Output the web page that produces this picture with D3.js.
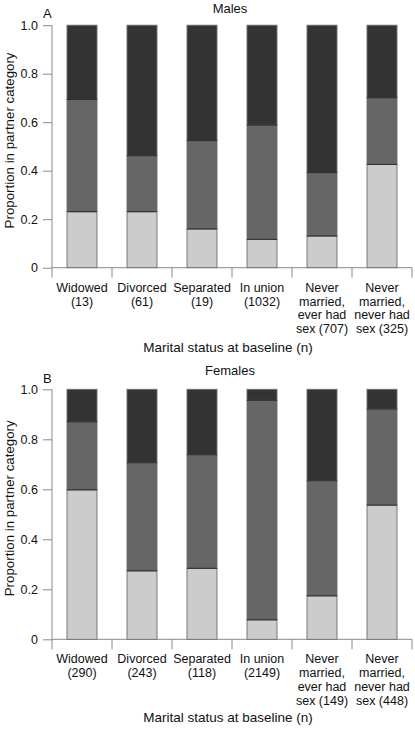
<!DOCTYPE html>
<html>
<head>
<meta charset="utf-8">
<script src="https://cdn.jsdelivr.net/npm/d3@7"></script>
<style>
  html, body { margin: 0; padding: 0; background: #fff; }
  svg { display: block; }
  text { font-family: "Liberation Sans", Arial, Helvetica, sans-serif; fill: #111; }
</style>
</head>
<body>
<svg id="chart" width="415" height="729"></svg>
<script>
// ---- data ----
const categories = ["Widowed", "Divorced", "Separated", "In union", "Never married, ever had sex", "Never married, never had sex"];
const categoryLines = [["Widowed"], ["Divorced"], ["Separated"], ["In union"], ["Never", "married,", "ever had"], ["Never", "married,", "never had"]];
const maleN = ["(13)", "(61)", "(19)", "(1032)", "sex (707)", "sex (325)"];
const femaleN = ["(290)", "(243)", "(118)", "(2149)", "sex (149)", "sex (448)"];

const maleLow  = [0.231, 0.231, 0.160, 0.117, 0.131, 0.426];
const maleMid  = [0.463, 0.231, 0.364, 0.471, 0.261, 0.275];
const maleHigh = [0.306, 0.538, 0.476, 0.412, 0.608, 0.299];

const femaleLow  = [0.598, 0.274, 0.284, 0.078, 0.174, 0.537];
const femaleMid  = [0.272, 0.432, 0.454, 0.878, 0.460, 0.384];
const femaleHigh = [0.130, 0.294, 0.262, 0.044, 0.366, 0.079];

const yTicks = [0, 0.2, 0.4, 0.6, 0.8, 1.0];
const yTickLabels = ["0", "0.2", "0.4", "0.6", "0.8", "1.0"];
const segmentKeys = ["low", "mid", "high"];
const segmentColors = ["#cccccc", "#666666", "#333333"];

// ---- drawing ----
const svg = d3.select("#chart");
const axisColor = "#8a8a8a";
const left = 52, right = 412;

function drawPanel(cfg) {
  const g = svg.append("g");
  const x = d3.scaleBand().domain(categories).range([left, right]).paddingInner(0.5).paddingOuter(0.25);
  const y = d3.scaleLinear().domain([0, 1]).range([cfg.bottom, cfg.top]);

  const rows = categories.map((c, i) => ({ cat: c, low: cfg.low[i], mid: cfg.mid[i], high: cfg.high[i] }));
  const series = d3.stack().keys(segmentKeys)(rows);

  // y axis
  const yAxis = d3.axisLeft(y).tickValues(yTicks).tickFormat((d, i) => yTickLabels[i]).tickSize(9).tickPadding(5);
  const ya = g.append("g").attr("transform", `translate(${left},0)`).call(yAxis);
  ya.select(".domain").attr("stroke", axisColor).attr("d", `M0,${cfg.top}V${cfg.bottom}`);
  ya.selectAll(".tick line").attr("stroke", axisColor);
  ya.selectAll(".tick text").style("font-size", "12.5px").attr("fill", "#111")
    .style("font-family", '"Liberation Sans", Arial, sans-serif');

  // x axis (ticks at band boundaries)
  const boundaries = d3.range(categories.length + 1).map(i => left + i * x.step());
  g.append("line").attr("x1", left).attr("x2", right).attr("y1", cfg.bottom).attr("y2", cfg.bottom)
    .attr("stroke", axisColor);
  g.selectAll(".xt").data(boundaries).join("line")
    .attr("x1", d => d).attr("x2", d => d).attr("y1", cfg.bottom).attr("y2", cfg.bottom + 10)
    .attr("stroke", axisColor);

  // bars
  g.selectAll(".seg").data(series).join("g")
    .attr("fill", (d, i) => segmentColors[i])
    .selectAll("rect").data(d => d).join("rect")
    .attr("x", d => x(d.data.cat))
    .attr("width", x.bandwidth())
    .attr("y", d => y(d[1]))
    .attr("height", d => y(d[0]) - y(d[1]))
    .attr("stroke", "#6e6e6e")
    .attr("stroke-width", 0.9);

  // boundary lines between segments (dark)
  g.selectAll(".bl").data(series.slice(0, 2).flatMap(s => s)).join("line")
    .attr("x1", d => x(d.data.cat)).attr("x2", d => x(d.data.cat) + x.bandwidth())
    .attr("y1", d => y(d[1])).attr("y2", d => y(d[1]))
    .attr("stroke", "#2a2a2a").attr("stroke-width", 1);

  // category labels
  const lbl = g.selectAll(".cl").data(categories).join("text")
    .attr("text-anchor", "middle")
    .style("font-size", "12.5px");
  lbl.each(function(c, i) {
    const lines = categoryLines[i].concat([cfg.n[i]]);
    d3.select(this).selectAll("tspan").data(lines).join("tspan")
      .attr("x", x(c) + x.bandwidth() / 2)
      .attr("y", (d, j) => cfg.bottom + 24 + j * 13.8)
      .text(d => d);
  });

  // titles
  g.append("text").attr("x", 230).attr("y", cfg.titleY).attr("text-anchor", "middle")
    .style("font-size", "13px").text(cfg.title);
  g.append("text").attr("x", 43).attr("y", cfg.letterY).attr("text-anchor", "start")
    .style("font-size", "13px").text(cfg.letter);

  // y label
  g.append("text")
    .attr("transform", `translate(13.5,${(cfg.top + cfg.bottom) / 2 - 6}) rotate(-90)`)
    .attr("text-anchor", "middle").style("font-size", "13.3px")
    .text("Proportion in partner category");

  // x label
  g.append("text").attr("x", 228).attr("y", cfg.xLabelY).attr("text-anchor", "middle")
    .style("font-size", "13.5px").text("Marital status at baseline (n)");
}

drawPanel({ title: "Males", letter: "A", top: 25.2, bottom: 267.7, titleY: 12.5, letterY: 18,
  xLabelY: 351.7, low: maleLow, mid: maleMid, high: maleHigh, n: maleN });
drawPanel({ title: "Females", letter: "B", top: 389.3, bottom: 639.3, titleY: 375, letterY: 383,
  xLabelY: 721.7, low: femaleLow, mid: femaleMid, high: femaleHigh, n: femaleN });
</script>
</body>
</html>
